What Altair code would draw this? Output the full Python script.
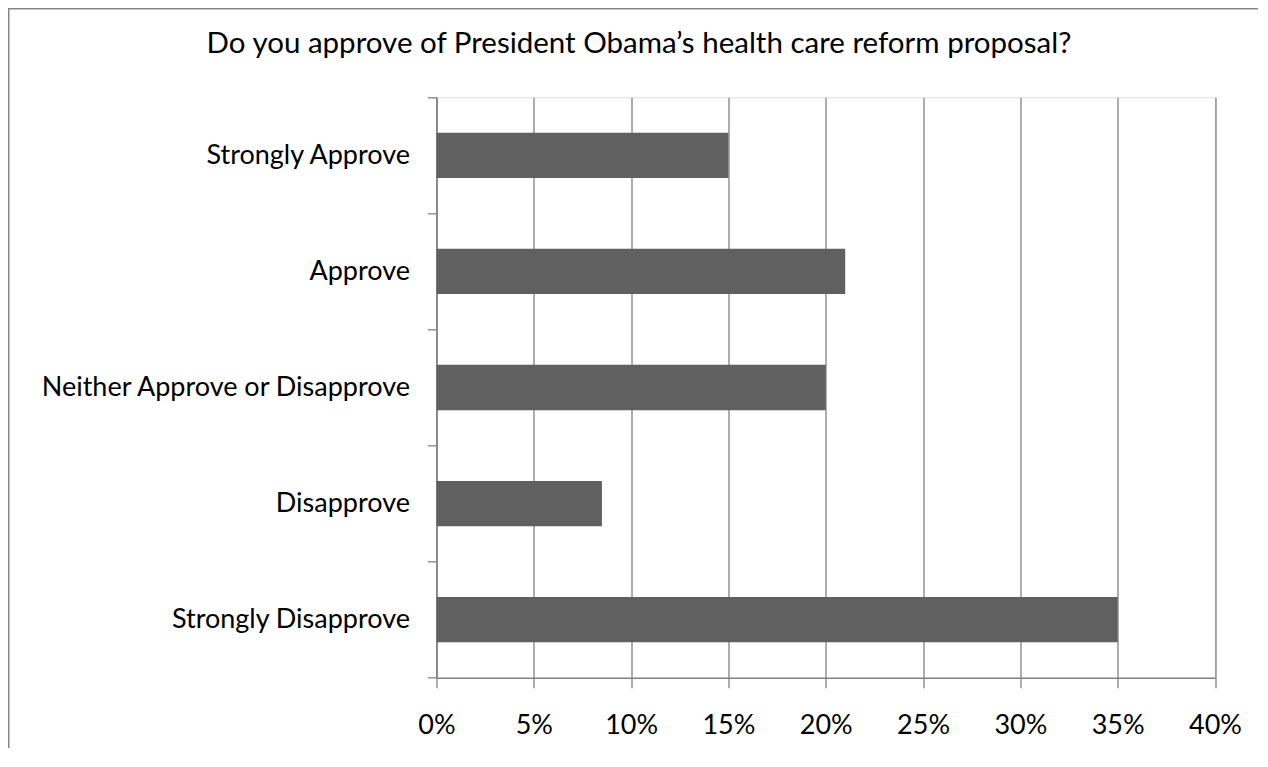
import altair as alt
import pandas as pd

categories = ["Strongly Approve", "Approve", "Neither Approve or Disapprove",
              "Disapprove", "Strongly Disapprove"]
values = [0.15, 0.21, 0.20, 0.085, 0.35]
tick_values = [0.0, 0.05, 0.10, 0.15, 0.20, 0.25, 0.30, 0.35, 0.40]
title_text = "Do you approve of President Obama\u2019s health care reform proposal?"

df = pd.DataFrame({"category": categories, "value": values})

W, H = 778.5, 580.4
PAD_L, PAD_T = 428.5, 89.3
PAD_R = 1250 - PAD_L - W
PAD_B = 740 - PAD_T - H

FONT = "Lato"
GRAY = "#828282"

bars = alt.Chart(df).mark_bar(color="#606060", height={"band": 0.39}).encode(
    x=alt.X("value:Q",
            scale=alt.Scale(domain=[0, 0.4], nice=False, zero=True),
            axis=alt.Axis(values=tick_values, format=".0%", title=None,
                          grid=True, gridColor=GRAY, gridWidth=1.3,
                          domainColor=GRAY, domainWidth=1.5,
                          tickColor=GRAY, tickWidth=1.3, tickSize=10,
                          labelFont=FONT, labelFontSize=27, labelColor="black",
                          labelPadding=25, labelFlush=False)),
    y=alt.Y("category:N", sort=categories,
            scale=alt.Scale(paddingInner=0, paddingOuter=0),
            axis=alt.Axis(title=None, tickBand="extent",
                          domainColor=GRAY, domainWidth=1.5,
                          tickColor=GRAY, tickWidth=1.3, tickSize=9,
                          labelFont=FONT, labelFontSize=27, labelColor="black",
                          labelPadding=18, labelLimit=500)),
)

frame_df = pd.DataFrame({"k": [0]})
frame = alt.Chart(frame_df).mark_rect(fill=None, stroke="#878787", strokeWidth=1.5).encode(
    x=alt.value(-PAD_L + 0.75), x2=alt.value(W + PAD_R + 60),
    y=alt.value(-PAD_T + 0.75), y2=alt.value(H + PAD_B + 60))
title = alt.Chart(frame_df).mark_text(
    text=title_text, font=FONT, fontSize=29.5, color="black",
    align="center", baseline="alphabetic").encode(
    x=alt.value(639 - 436.5), y=alt.value(53 - 97.3))

chart = alt.layer(bars, frame, title).properties(
    width=W, height=H,
    autosize=alt.AutoSizeParams(type="none"),
    padding={"left": PAD_L, "top": PAD_T, "right": PAD_R, "bottom": PAD_B},
).configure_view(stroke=None).configure(background="white")

chart.save("out.html", embed_options={"renderer": "svg", "actions": False})
